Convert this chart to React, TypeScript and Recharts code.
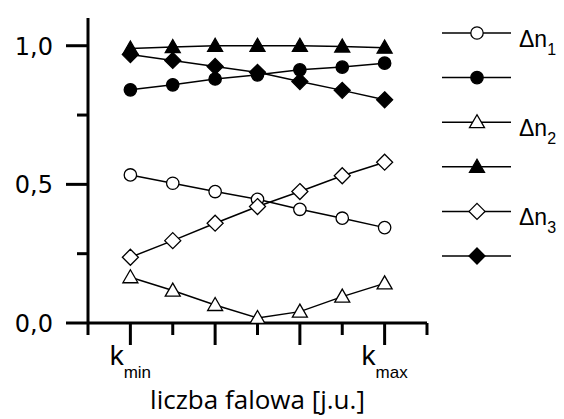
import { LineChart, Line, XAxis, YAxis, Legend } from 'recharts';

const xs = [1, 2, 3, 4, 5, 6, 7];
const dn1Open = [0.534, 0.504, 0.474, 0.446, 0.41, 0.378, 0.344];
const dn1Fill = [0.841, 0.859, 0.88, 0.895, 0.913, 0.923, 0.937];
const dn2Open = [0.165, 0.117, 0.065, 0.018, 0.041, 0.095, 0.143];
const dn2Fill = [0.99, 0.995, 1.0, 1.0, 1.0, 0.997, 0.993];
const dn3Open = [0.237, 0.297, 0.36, 0.42, 0.474, 0.531, 0.58];
const dn3Fill = [0.968, 0.947, 0.925, 0.904, 0.871, 0.839, 0.805];

const xTicks = [0, 1, 2, 3, 4, 5, 6, 7, 8];
const xTickLabels: Record<number, [string, string]> = { 1: ['k', 'min'], 7: ['k', 'max'] };
const yTicks = [0, 0.25, 0.5, 0.75, 1.0];
const yMajor = [0, 0.5, 1.0];

const series = [
  { key: 'a', shape: 'circle', filled: false, label: '1' },
  { key: 'b', shape: 'circle', filled: true, label: '' },
  { key: 'c', shape: 'triangle', filled: false, label: '2' },
  { key: 'd', shape: 'triangle', filled: true, label: '' },
  { key: 'e', shape: 'diamond', filled: false, label: '3' },
  { key: 'f', shape: 'diamond', filled: true, label: '' },
];

const data = xs.map((x, i) => ({
  x,
  a: dn1Open[i],
  b: dn1Fill[i],
  c: dn2Open[i],
  d: dn2Fill[i],
  e: dn3Open[i],
  f: dn3Fill[i],
}));

function Marker({ cx, cy, shape, filled }: { cx: number; cy: number; shape: string; filled: boolean }) {
  const fill = filled ? '#000' : '#fff';
  if (shape === 'circle') {
    return <circle cx={cx} cy={cy} r={6.2} fill={fill} stroke="#000" strokeWidth={1.3} />;
  }
  if (shape === 'triangle') {
    const pts = `${cx},${cy - 7.5} ${cx - 7.5},${cy + 5.5} ${cx + 7.5},${cy + 5.5}`;
    return <polygon points={pts} fill={fill} stroke="#000" strokeWidth={1.3} />;
  }
  const pts = `${cx},${cy - 8} ${cx + 8},${cy} ${cx},${cy + 8} ${cx - 8},${cy}`;
  return <polygon points={pts} fill={fill} stroke="#000" strokeWidth={1.3} />;
}

function XTick(props: any) {
  const { x, y, payload } = props;
  const v = payload.value;
  const major = v % 2 === 1;
  const lbl = xTickLabels[v];
  return (
    <g>
      <line x1={x} x2={x} y1={y} y2={y + (major ? 22 : 12)} stroke="#000" strokeWidth={3} />
      {lbl && (
        <text x={x} y={y + 42} textAnchor="middle" fontFamily="Liberation Sans" fontSize={28} fill="#000">
          {lbl[0]}
          <tspan fontSize={17} dy={13}>{lbl[1]}</tspan>
        </text>
      )}
    </g>
  );
}

function YTick(props: any) {
  const { x, y, payload } = props;
  const v = payload.value;
  const major = yMajor.includes(v);
  return (
    <g>
      <line x1={x - (major ? 22 : 11)} x2={x} y1={y} y2={y} stroke="#000" strokeWidth={3} />
      {major && (
        <text x={x - 35} y={y + 9} textAnchor="end" fontFamily="DejaVu Sans" fontSize={24} fill="#000">
          {v.toFixed(1).replace('.', ',')}
        </text>
      )}
    </g>
  );
}

function LegendBox() {
  return (
    <svg width={134} height={290}>
      {series.map((s, i) => {
        const y = 33 + i * 44.6;
        return (
          <g key={s.key}>
            <line x1={12} x2={81} y1={y} y2={y} stroke="#000" strokeWidth={1.5} />
            <Marker cx={47} cy={y} shape={s.shape} filled={s.filled} />
            {s.label && (
              <text x={89} y={y + 14} fontFamily="Liberation Sans" fontSize={23} fill="#000">
                Δn
                <tspan fontSize={16} dy={8}>{s.label}</tspan>
              </text>
            )}
          </g>
        );
      })}
    </svg>
  );
}

export default function App() {
  return (
    <div style={{ position: 'absolute', left: 0, top: 0, width: 564, height: 419, background: '#fff' }}>
      <LineChart width={564} height={419} data={data} margin={{ top: 18, right: 137, left: 0, bottom: 0 }}>
        <XAxis
          dataKey="x"
          type="number"
          domain={[0, 8]}
          ticks={xTicks}
          interval={0}
          axisLine={{ stroke: '#000', strokeWidth: 3 }}
          tickLine={false}
          tickSize={0}
          tickMargin={0}
          tick={<XTick />}
          height={96}
          label={{
            content: ({ viewBox }: any) => (
              <text
                x={viewBox.x + viewBox.width / 2}
                y={409}
                textAnchor="middle"
                fontFamily="Open Sans"
                fontSize={26}
                fill="#000"
              >
                liczba falowa [j.u.]
              </text>
            ),
          }}
        />
        <YAxis
          type="number"
          domain={[0, 1.1]}
          ticks={yTicks}
          interval={0}
          allowDataOverflow
          width={88}
          axisLine={{ stroke: '#000', strokeWidth: 3 }}
          tickLine={false}
          tickSize={0}
          tickMargin={0}
          tick={<YTick />}
        />
        <Legend
          layout="horizontal"
          verticalAlign="middle"
          align="center"
          wrapperStyle={{ left: 430, top: 0, width: 134, height: 290 }}
          content={() => <LegendBox />}
        />
        {series.map((s) => (
          <Line
            key={s.key}
            dataKey={s.key}
            stroke="#000"
            strokeWidth={1.5}
            isAnimationActive={false}
            dot={(p: any) => <Marker key={`${s.key}-${p.index}`} cx={p.cx} cy={p.cy} shape={s.shape} filled={s.filled} />}
            activeDot={false}
          />
        ))}
      </LineChart>
    </div>
  );
}
